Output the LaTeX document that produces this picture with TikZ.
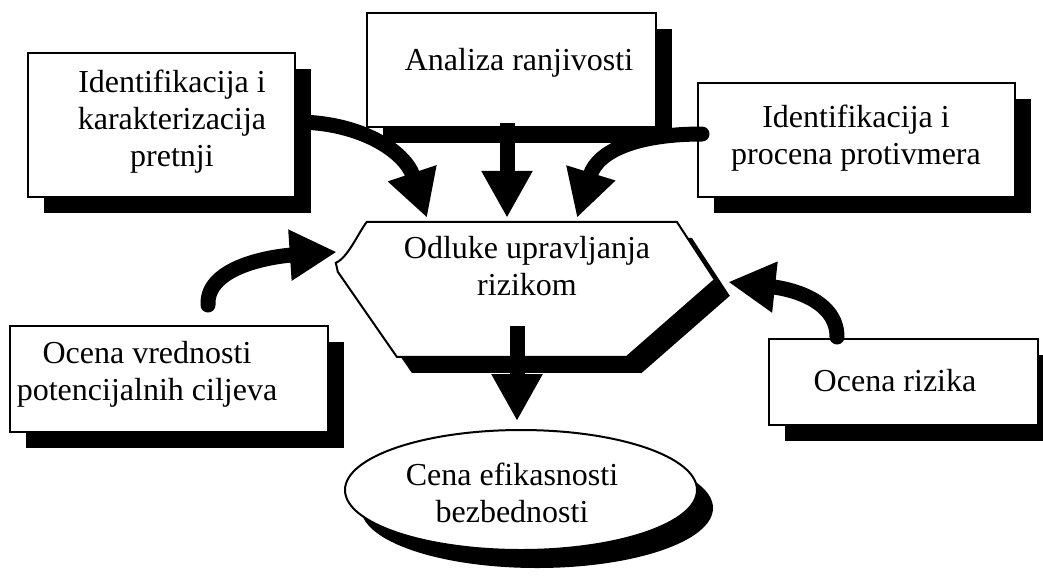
\documentclass[tikz,border=0pt]{standalone}
\usepackage{fontspec}
\setmainfont{Liberation Serif}
\usetikzlibrary{arrows.meta,shapes.geometric,shadows,calc}

\begin{document}
\begin{tikzpicture}[x=1pt,y=-1pt,
  box/.style={rectangle, draw=black, line width=2pt, fill=white, inner sep=0pt,
    drop shadow={shadow xshift=16pt, shadow yshift=-16pt, fill=black, opacity=1}},
  caption/.style={font=\fontsize{32}{37}\selectfont, align=center, inner sep=0pt},
  flow/.style={line width=15pt, -{Triangle[length=47pt,width=48pt]}},
  stem/.style={flow, line cap=butt},
  bend flow/.style={flow, line cap=round},
  hexline/.style={draw=black, line width=2pt, fill=white}
]
\useasboundingbox (0,0) rectangle (1043,576);

% input boxes
\node[box, minimum width=267pt, minimum height=144pt] (threat)  at (161.5,125) {};
\node[box, minimum width=289pt, minimum height=114pt] (vuln)    at (511.5,70)  {};
\node[box, minimum width=317pt, minimum height=114pt] (counter) at (856.5,140) {};
\node[box, minimum width=318pt, minimum height=106pt] (assets)  at (169,379)   {};
\node[box, minimum width=269pt, minimum height=86pt]  (risk)    at (903.5,382) {};

% decision hexagon: frame node, shadow and outline
\node[inner sep=0pt, minimum width=379pt, minimum height=135pt] (decide) at (525.5,289.5) {};
\newcommand\hexpath{(31,0) -- (341,0) -- (379,58) -- (291,135) -- (61,135) -- (2,50) -- (0,41)
  .. controls (12,36) and (22,12) .. (31,0) -- cycle}
\begin{scope}[shift={(decide.north west)}]
  \fill[black, shift={(15,16)}] \hexpath;
  \path[hexline] \hexpath;
\end{scope}

% result ellipse
\node[ellipse, draw=black, line width=2pt, fill=white, inner sep=0pt,
      minimum width=352pt, minimum height=120pt,
      drop shadow={shadow xshift=16pt, shadow yshift=-18pt, fill=black, opacity=1}]
  (cost) at (521,490) {};

% texts
\node[caption] (threatText)  at (172,122)   {Identifikacija i\\karakterizacija\\pretnji};
\node[caption] (vulnText)    at (519,62.5)  {Analiza ranjivosti};
\node[caption] (counterText) at (856,138)   {Identifikacija i\\procena protivmera};
\node[caption] (decideText)  at (527,266.5) {Odluke upravljanja\\rizikom};
\node[caption] (assetsText)  at (147,374)   {Ocena vrednosti\\potencijalnih ciljeva};
\node[caption] (riskText)    at (895,381)   {Ocena rizika};
\node[caption] (costText)    at (512,492.5) {Cena efikasnosti\\bezbednosti};

% connectors
\draw[flow] ([yshift=3pt]threat.east) .. controls +(65,0) and +(-22,-66) .. ([xshift=-98.5pt,yshift=4pt]decide.north);
\draw[stem] ([xshift=-4.5pt,yshift=5pt]vuln.south) -- ([xshift=-18.5pt,yshift=4pt]decide.north);
\draw[bend flow] ([xshift=5pt,yshift=6pt]counter.west) .. controls +(-63,0) and +(21,-68) .. ([xshift=51.5pt,yshift=4pt]decide.north);
\draw[bend flow] ([xshift=39pt,yshift=20pt]assets.north) .. controls +(-2,-40) and +(-60,4) .. ([xshift=1pt,yshift=37.5pt]decide.west);
\draw[bend flow] ([xshift=-66.5pt,yshift=1pt]risk.north) .. controls +(0,-40) and +(55,6) .. ([xshift=13pt,yshift=7.5pt]decide.east);
\draw[stem] ([xshift=-8.5pt,yshift=31pt]decide.south) -- ([xshift=-4pt,yshift=8pt]cost.north);
\end{tikzpicture}
\end{document}
